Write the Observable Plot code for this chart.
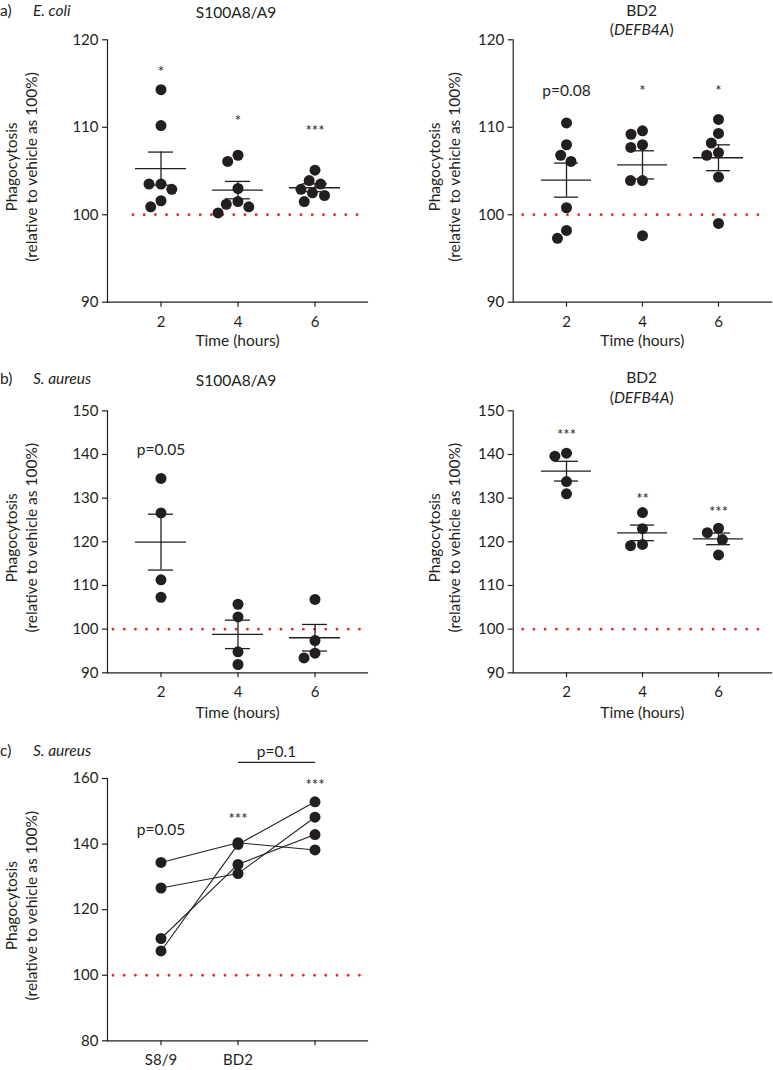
<!DOCTYPE html>
<html><head><meta charset="utf-8">
<script src="https://cdn.jsdelivr.net/npm/d3@7"></script>
<script src="https://cdn.jsdelivr.net/npm/@observablehq/plot@0.6"></script>
<style>
body{margin:0;background:#fff;}
#root{position:relative;width:773px;height:1070px;font-family:Lato,sans-serif;color:#231f20;overflow:hidden;background:#fff}
.lbl{position:absolute;font-size:15.5px;white-space:nowrap;line-height:1;transform:translate(-50%,-50%)}
.lbl.lft{transform:translate(0,-50%)}
.svgbox{position:absolute}
.svgbox svg{display:block}
</style></head><body><div id="root"></div>
<script>
// ---------- data ----------
const times = [2, 4, 6];
const baseline = 100;
// a) E. coli
const ecoliS89 = [[114.3,110.2,103.5,103.5,102.9,101.6,100.9],[106.8,106.1,103.0,101.5,101.2,100.9,100.2],[105.1,103.9,103.5,102.9,102.5,102.2,101.5]];
const ecoliBD2 = [[110.5,108.0,106.8,106.1,100.8,98.2,97.3],[109.6,109.2,108.0,107.7,103.9,103.9,97.6],[110.9,109.3,108.2,107.1,106.8,104.3,99.0]];
// b) S. aureus
const aureusS89 = [[134.5,126.6,111.3,107.3],[105.7,102.8,94.8,91.9],[106.8,97.4,94.5,93.4]];
const aureusBD2 = [[140.3,139.6,133.8,131.0],[126.7,123.0,119.4,119.1],[123.1,122.1,120.5,117.0]];
// annotations (label, y value of label)
const ecoliS89Notes = ["*","*","***"];      const ecoliS89NoteY = [116.7,111.2,110.0];
const ecoliBD2Notes = ["p=0.08","*","*"];   const ecoliBD2NoteY = [114.1,114.6,114.6];
const aureusS89Notes = ["p=0.05","",""];    const aureusS89NoteY = [141.1,null,null];
const aureusBD2Notes = ["***","**","***"];  const aureusBD2NoteY = [145.3,130.6,127.6];
// c) S. aureus, paired donors
const comboConditions = ["S8/9","BD2","S8/9+BD2"];
const comboDonors = ["D1","D2","D3","D4"];
const comboValues = [[134.4,140.4,138.2],[126.6,131.0,148.2],[111.2,133.8,142.9],[107.4,139.9,152.9]];
const comboNotes = ["p=0.05","***","***"]; const comboNoteY = [144.4,148.7,159.1];
const comboBracket = [{from:"BD2", to:"S8/9+BD2", y:164.9, label:"p=0.1", labelY:168.0}];
const yLabel = "Phagocytosis\n(relative to vehicle as 100%)";
const xLabel = "Time (hours)";

// ---------- style ----------
const ink = "#231f20", red = "#e5262b";
const FONT = "Lato, sans-serif";
const root = document.getElementById("root");
function addBox(el, left, top){const d=document.createElement("div");d.className="svgbox";d.style.left=left+"px";d.style.top=top+"px";d.appendChild(el);root.appendChild(d);}
function addLabel(html, x, y, cls=""){const d=document.createElement("div");d.className="lbl "+cls;d.style.left=x+"px";d.style.top=y+"px";d.innerHTML=html;root.appendChild(d);}
const style = {fontFamily: FONT, fontSize: "15px", color: ink, background: "transparent", overflow: "visible"};

function isStar(s){return s.startsWith("*");}

function dotPanel(o){
  const rows = o.values.flatMap((vs,i)=>vs.map(v=>({t:times[i], v})));
  const stats = times.map((t,i)=>{const vs=o.values[i];const m=d3.mean(vs);const se=d3.deviation(vs)/Math.sqrt(vs.length);return {t, mean:m, lo:m-se, hi:m+se};});
  const notes = times.map((t,i)=>({t, label:o.notes[i], y:o.noteY[i]})).filter(d=>d.label);
  const band = {type:"band", domain:times, paddingInner:0, paddingOuter:o.pad};
  const dims = {width:o.W, height:o.H, marginLeft:o.mL, marginRight:o.mR, marginTop:o.mT, marginBottom:o.mB};
  const base = Plot.plot({...dims, style,
    x: band, y: {domain:o.yDomain},
    marks: [
      Plot.ruleY([baseline], {stroke:red, strokeWidth:2.8, strokeDasharray:"0,11.2", strokeLinecap:"round", insetLeft:o.redIn[0], insetRight:o.redIn[1]}),
      Plot.frame({anchor:"left", stroke:ink, strokeWidth:1.2}),
      Plot.frame({anchor:"bottom", stroke:ink, strokeWidth:1.2}),
      Plot.axisY({ticks:o.yTicks, tickSize:5, tickPadding:4, label:null, stroke:ink, strokeWidth:1.2}),
      Plot.axisX({tickSize:5, tickPadding:9, label:null, stroke:ink, strokeWidth:1.2}),
      Plot.tickY(stats, {x:"t", y:"mean", stroke:ink, strokeWidth:1.3, insetLeft:13, insetRight:13}),
      Plot.ruleX(stats, {x:"t", y1:"lo", y2:"hi", stroke:ink, strokeWidth:1.3}),
      Plot.tickY(stats, {x:"t", y:"hi", stroke:ink, strokeWidth:1.3, insetLeft:26, insetRight:26}),
      Plot.tickY(stats, {x:"t", y:"lo", stroke:ink, strokeWidth:1.3, insetLeft:26, insetRight:26}),
      Plot.text(notes.filter(d=>isStar(d.label)), {x:"t", y:"y", text:"label", fill:ink, dy:4}),
      Plot.text(notes.filter(d=>!isStar(d.label)), {x:"t", y:"y", text:"label", fill:ink, fontSize:15.5}),
      Plot.text([xLabel], {frameAnchor:"bottom", dy:o.xLabDy, fill:ink, fontSize:15.5}),
      Plot.text([yLabel], {frameAnchor:"left", dx:o.yLabDx, dy:-4, rotate:-90, lineHeight:1.33, textAnchor:"middle", lineAnchor:"middle", fill:ink, fontSize:15.5})
    ]});
  const dots = Plot.plot({...dims, style,
    fx: {...band, axis:null}, y: {domain:o.yDomain, axis:null},
    marks: [Plot.dot(rows, Plot.dodgeX({anchor:"middle", padding:1}, {fx:"t", y:"v", r:5.5, fill:ink}))]});
  addBox(base, o.left, o.top);
  addBox(dots, o.left, o.top);
}

const L = {left:0, W:390, mL:107, mR:23, pad:0.182, yLabDx:-87};
const R = {left:390, W:383, mL:122.7, mR:2, pad:0.18, yLabDx:-69.7};
const rowA = {top:0, H:360, mT:39.3, mB:58.3, xLabDy:43.6, yDomain:[90,120], yTicks:[90,100,110,120]};
const rowB = {top:360, H:370, mT:50.3, mB:57.7, xLabDy:45, yDomain:[90,150], yTicks:[90,100,110,120,130,140,150]};

dotPanel({...L, ...rowA, values:ecoliS89, notes:ecoliS89Notes, noteY:ecoliS89NoteY, redIn:[26,10]});
dotPanel({...R, ...rowA, values:ecoliBD2, notes:ecoliBD2Notes, noteY:ecoliBD2NoteY, redIn:[10,5]});
dotPanel({...L, ...rowB, values:aureusS89, notes:aureusS89Notes, noteY:aureusS89NoteY, redIn:[6,0]});
dotPanel({...R, ...rowB, values:aureusBD2, notes:aureusBD2Notes, noteY:aureusBD2NoteY, redIn:[10,5]});

// panel c
{
  const rows = comboDonors.flatMap((d,i)=>comboConditions.map((c,j)=>({donor:d, cond:c, v:comboValues[i][j]})));
  const notes = comboConditions.map((c,i)=>({c, label:comboNotes[i], y:comboNoteY[i]}));
  const p = Plot.plot({width:L.W, height:340, marginLeft:L.mL, marginRight:L.mR, marginTop:48, marginBottom:29.7, style,
    x: {type:"band", domain:comboConditions, paddingInner:0, paddingOuter:L.pad},
    y: {domain:[80,160]},
    marks: [
      Plot.ruleY([baseline], {stroke:red, strokeWidth:2.8, strokeDasharray:"0,11.2", strokeLinecap:"round", insetLeft:6}),
      Plot.frame({anchor:"left", stroke:ink, strokeWidth:1.2}),
      Plot.frame({anchor:"bottom", stroke:ink, strokeWidth:1.2}),
      Plot.axisY({ticks:[80,100,120,140,160], tickSize:5, tickPadding:4, label:null, stroke:ink, strokeWidth:1.2}),
      Plot.axisX({tickSize:5, tickPadding:9, label:null, stroke:ink, strokeWidth:1.2, tickFormat:d=>d==="S8/9+BD2"?"":d}),
      Plot.line(rows, {x:"cond", y:"v", z:"donor", stroke:ink, strokeWidth:1.1}),
      Plot.dot(rows, {x:"cond", y:"v", r:5.5, fill:ink}),
      Plot.text(notes.filter(d=>isStar(d.label)), {x:"c", y:"y", text:"label", fill:ink, dy:4}),
      Plot.text(notes.filter(d=>!isStar(d.label)), {x:"c", y:"y", text:"label", fill:ink, fontSize:15.5}),
      Plot.link(comboBracket, {x1:"from", x2:"to", y1:"y", y2:"y", stroke:ink, strokeWidth:1.2}),
      Plot.text(comboBracket, {x:(d)=>d.from, y:"labelY", text:"label", fill:ink, fontSize:15.5, dx:38.5}),
      Plot.text([yLabel], {frameAnchor:"left", dx:L.yLabDx, dy:-4, rotate:-90, lineHeight:1.33, textAnchor:"middle", lineAnchor:"middle", fill:ink, fontSize:15.5})
    ]});
  addBox(p, 0, 730);
}

// titles & panel labels
addLabel("a)", 0, 11, "lft");
addLabel("<i>E. coli</i>", 33, 11, "lft");
addLabel("S100A8/A9", 236, 12.5);
addLabel("BD2", 641.7, 10.5);
addLabel("(<i>DEFB4A</i>)", 641.7, 29.7);
addLabel("b)", 0, 378.5, "lft");
addLabel("<i>S. aureus</i>", 33, 378.5, "lft");
addLabel("S100A8/A9", 236, 380.7);
addLabel("BD2", 641.7, 378);
addLabel("(<i>DEFB4A</i>)", 641.7, 398.3);
addLabel("c)", 0, 751, "lft");
addLabel("<i>S. aureus</i>", 33, 751, "lft");
</script></body></html>
